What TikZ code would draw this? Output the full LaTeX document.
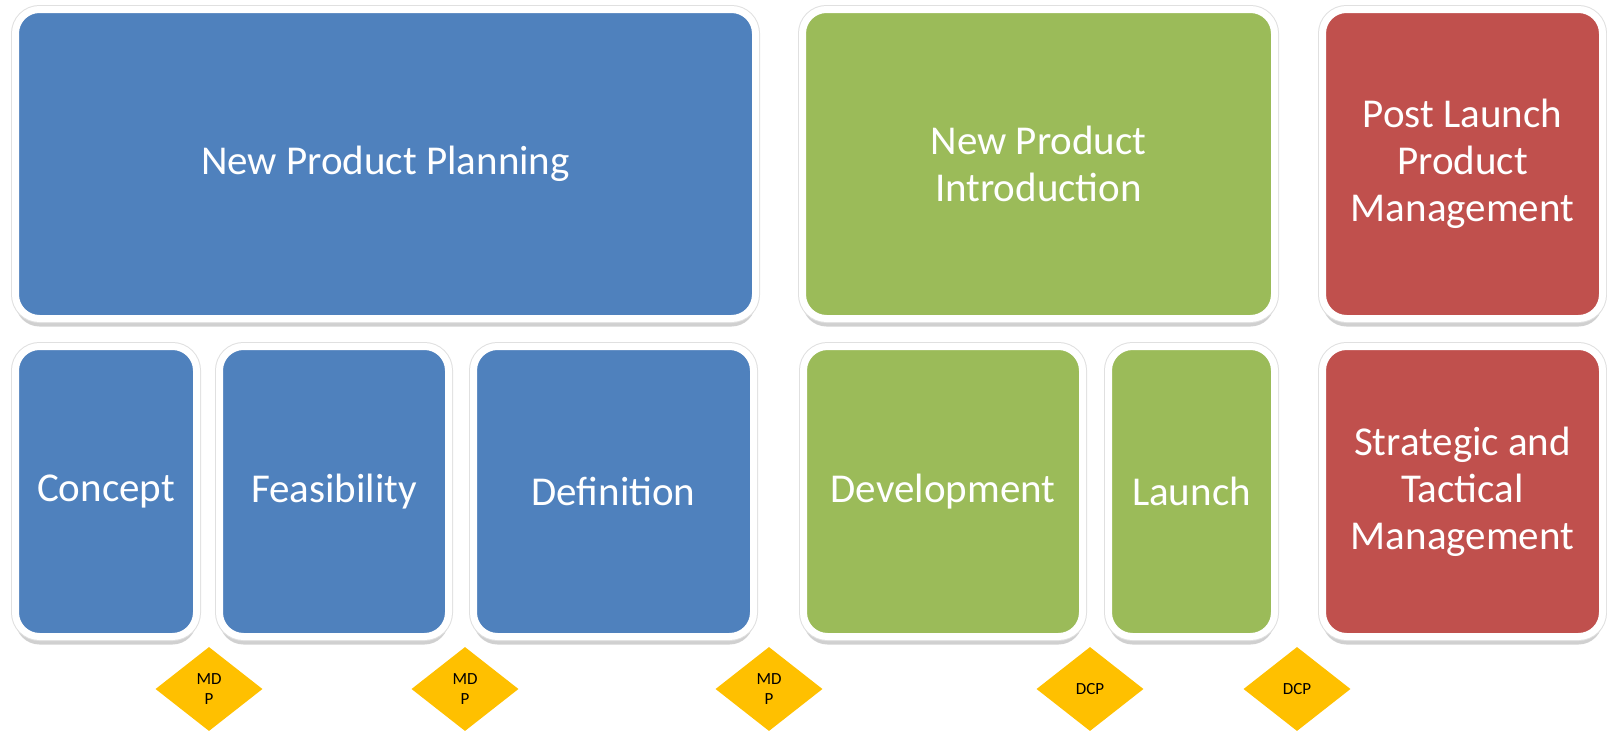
\documentclass[tikz,border=0pt]{standalone}
\usepackage{fontspec}
\setmainfont{Carlito}
\usetikzlibrary{shapes.geometric,shadows}
\definecolor{pblue}{HTML}{4F81BD}
\definecolor{pgreen}{HTML}{9BBB59}
\definecolor{pred}{HTML}{C0504D}
\definecolor{gate}{HTML}{FFC000}
\tikzset{
  phase/.style={rectangle, rounded corners=24pt, draw=white, line width=7pt,
    text=white, font=\fontsize{41}{47}\selectfont, align=center, inner sep=0pt,
    drop shadow={shadow xshift=0pt, shadow yshift=-8pt, opacity=0.3, fill=black!60},
    preaction={draw=black!12, line width=9pt}},
  toprow/.style={phase, minimum height=309pt},
  botrow/.style={phase, minimum height=290pt},
  gatebox/.style={diamond, fill=gate, draw=none, minimum width=107pt, minimum height=84pt,
    inner sep=0pt, font=\fontsize{17}{20}\selectfont, align=center, text=black}
}
\begin{document}
\begin{tikzpicture}[x=1pt,y=-1pt]
\useasboundingbox[fill=white] (0,0) rectangle (1607,731);
% top row
\node[toprow, fill=pblue, minimum width=740pt] (npp) at (385.5,164) {New Product Planning};
\node[toprow, fill=pgreen, minimum width=472pt] (npi) at (1038.5,164) {New Product\\Introduction};
\node[toprow, fill=pred, minimum width=280pt] (plpm) at (1462.5,164) {Post Launch\\Product\\Management};
% bottom row
\node[botrow, fill=pblue, minimum width=181pt] (concept) at (106,491.5) {Concept};
\node[botrow, fill=pblue, minimum width=229pt] (feas) at (334,491.5) {Feasibility};
\node[botrow, fill=pblue, minimum width=280pt] (defn) at (613.5,491.5) {Definition};
\node[botrow, fill=pgreen, minimum width=279pt] (dev) at (943,491.5) {Development};
\node[botrow, fill=pgreen, minimum width=166pt] (launch) at (1191.5,491.5) {Launch};
\node[botrow, fill=pred, minimum width=280pt] (stm) at (1462.5,491.5) {Strategic and\\Tactical\\Management};
% gates
\node[gatebox] (g1) at (209,689) {MD\\P};
\node[gatebox] (g2) at (465,689) {MD\\P};
\node[gatebox] (g3) at (769,689) {MD\\P};
\node[gatebox] (g4) at (1090,689) {DCP};
\node[gatebox] (g5) at (1297,689) {DCP};
\end{tikzpicture}
\end{document}
